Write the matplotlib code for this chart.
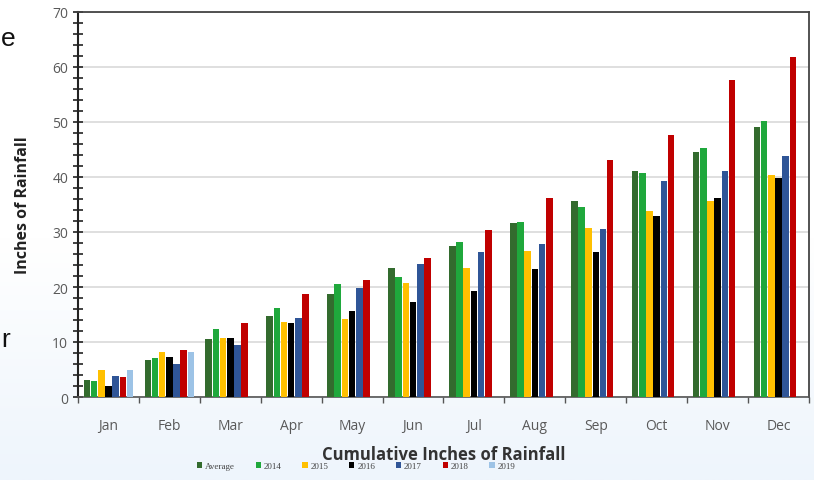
import numpy as np
import matplotlib
matplotlib.use('Agg')
import matplotlib.pyplot as plt
from matplotlib.colors import LinearSegmentedColormap

# Data
months = ['Jan', 'Feb', 'Mar', 'Apr', 'May', 'Jun', 'Jul', 'Aug', 'Sep', 'Oct', 'Nov', 'Dec']
series_names = ['Average', '2014', '2015', '2016', '2017', '2018', '2019']
average = [3.1, 6.7, 10.5, 14.8, 18.7, 23.4, 27.5, 31.6, 35.6, 41.1, 44.6, 49.1]
y2014 = [2.9, 7.1, 12.4, 16.2, 20.5, 21.9, 28.2, 31.9, 34.5, 40.8, 45.3, 50.1]
y2015 = [4.9, 8.2, 10.8, 13.7, 14.2, 20.7, 23.5, 26.6, 30.8, 33.8, 35.6, 40.4]
y2016 = [2.0, 7.2, 10.8, 13.4, 15.6, 17.3, 19.3, 23.3, 26.3, 33.0, 36.1, 39.8]
y2017 = [3.8, 6.0, 9.5, 14.4, 19.8, 24.1, 26.3, 27.9, 30.5, 39.3, 41.1, 43.9]
y2018 = [3.6, 8.5, 13.4, 18.8, 21.2, 25.3, 30.4, 36.2, 43.1, 47.6, 57.7, 61.8]
y2019 = [4.9, 8.2]
colors = ['#336b2e', '#1fa83c', '#ffc000', '#000000', '#2f5597', '#c00000', '#9dc3e6']

all_series = [average, y2014, y2015, y2016, y2017, y2018, y2019]

fig = plt.figure(figsize=(8.14, 4.81), dpi=100)
plt.rcParams['font.family'] = ['Open Sans', 'DejaVu Sans']

# Slide background with light blue fade at the bottom
bg = fig.add_axes([0, 0, 1, 1], zorder=-5)
grad = np.linspace(0, 1, 200).reshape(-1, 1)
cmap_bg = LinearSegmentedColormap.from_list('bg', ['#eef5fc', '#ffffff', '#ffffff'])
bg.imshow(grad, aspect='auto', cmap=cmap_bg, extent=[0, 1, 0, 1], origin='lower')
bg.axis('off')

# Slide text at the left edge
fig.text(0.001, 0.905, 'e', fontsize=19, color='#111111', family='Liberation Sans')
fig.text(0.001, 0.278, 'r', fontsize=19, color='#111111', family='Liberation Sans')

ax = fig.add_axes([78 / 814, 1 - 398 / 481, (809 - 78) / 814, (398 - 13) / 481])
ax.set_facecolor('white')

x = np.arange(len(months))
slot = 0.118
bar_w = 0.108
n = len(all_series)
for i, (vals, name, c) in enumerate(zip(all_series, series_names, colors)):
    offs = (i - (n - 1) / 2) * slot
    ax.bar(x[:len(vals)] + offs, vals, width=bar_w, color=c, label=name, zorder=3)

ax.set_xlim(-0.5, 11.5)
ax.set_ylim(0, 70)

ax.set_yticks(np.arange(0, 71, 10))
ax.set_yticks(np.arange(0, 71, 2), minor=True)
ax.tick_params(axis='y', which='both', direction='inout', length=7, width=1.2,
               colors='#222222', labelcolor='#595959', labelsize=10)
ax.grid(axis='y', which='major', color='#d9d9d9', linewidth=1.2, zorder=0)

ax.set_xticks(x)
ax.set_xticklabels(months)
ax.set_xticks(np.arange(-0.5, 12, 1), minor=True)
ax.tick_params(axis='x', which='major', length=0, labelcolor='#595959', labelsize=10, pad=15)
ax.tick_params(axis='x', which='minor', direction='out', length=4, width=1, colors='#555555')

for s in ['top', 'right']:
    ax.spines[s].set_color('#444444')
    ax.spines[s].set_linewidth(1.3)
ax.spines['left'].set_color('#222222')
ax.spines['left'].set_linewidth(1.5)
ax.spines['bottom'].set_color('#555555')
ax.spines['bottom'].set_linewidth(1.2)

ax.set_ylabel('Inches of Rainfall', fontsize=11.5, fontweight='bold', color='#222222', labelpad=15)
ax.set_xlabel('Cumulative Inches of Rainfall', fontsize=12, fontweight='bold', color='#333333', labelpad=9)

leg = fig.legend(loc='center', bbox_to_anchor=(356 / 814, 1 - 467 / 481), ncol=7, frameon=False,
                 handlelength=0.6, handleheight=0.6, handletextpad=0.3,
                 columnspacing=2.3, prop={'family': 'Liberation Serif', 'size': 6.5})
for t in leg.get_texts():
    t.set_color('#444444')

fig.savefig('out.png', dpi=100)
